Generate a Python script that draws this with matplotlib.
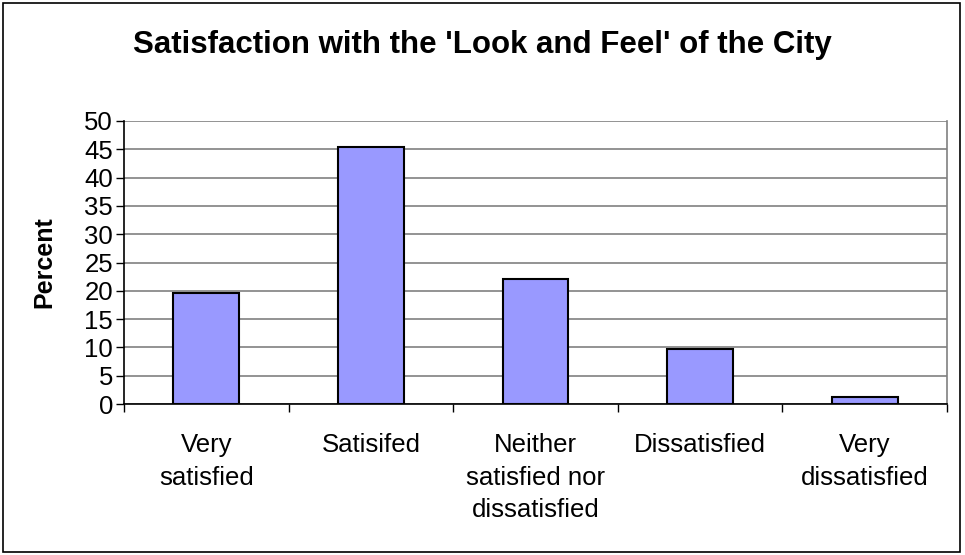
import matplotlib
matplotlib.use("Agg")
import matplotlib.pyplot as plt
from matplotlib.patches import Rectangle

categories = ["Very\nsatisfied", "Satisifed", "Neither\nsatisfied nor\ndissatisfied", "Dissatisfied", "Very\ndissatisfied"]
values = [19.6, 45.4, 22.1, 9.7, 1.2]
yticks = list(range(0, 51, 5))

plt.rcParams['font.family'] = ['Liberation Sans', 'DejaVu Sans']

fig = plt.figure(figsize=(9.65, 5.55), dpi=100)
ax = fig.add_axes([124/965, 1-404/555, (947-124)/965, (404-121)/555])

x = list(range(len(categories)))
ax.bar(x, values, width=0.4, color="#9999FF", edgecolor="black", linewidth=1.5, zorder=3)

ax.set_xlim(-0.5, len(categories)-0.5)
ax.set_ylim(0, 50)
ax.set_yticks(yticks)
ax.set_yticklabels([str(v) for v in yticks], fontsize=18.5)
ax.yaxis.grid(True, color="#808080", linewidth=1.2, zorder=0)
ax.set_axisbelow(True)

ax.set_xticks(x)
ax.set_xticklabels(categories, fontsize=18.5, linespacing=1.45, va="top")
ax.tick_params(axis="x", which="major", length=0, pad=21)
ax.set_xticks([i-0.5 for i in range(len(categories)+1)], minor=True)
ax.tick_params(axis="x", which="minor", length=6, width=1, color="black", direction="out")
ax.tick_params(axis="y", length=6, width=1, direction="out", pad=2)

ax.spines["top"].set_visible(False)
ax.spines["right"].set_color("#808080")
ax.spines["right"].set_linewidth(1.2)
ax.spines["left"].set_color("black")
ax.spines["bottom"].set_color("black")
ax.spines["left"].set_linewidth(1.2)
ax.spines["bottom"].set_linewidth(1.2)

ax.set_ylabel("Percent", fontsize=18, fontweight="bold")
ax.yaxis.set_label_coords(-(124-56)/823, 0.5)

fig.text(482/965, 1-45/555, "Satisfaction with the 'Look and Feel' of the City",
         ha="center", va="center", fontsize=22.5, fontweight="bold")

fig.patches.append(Rectangle((3/965, 3/555), 957/965, 549/555, transform=fig.transFigure,
                             fill=False, edgecolor="black", linewidth=1.2))

fig.savefig("out.png", dpi=100)
